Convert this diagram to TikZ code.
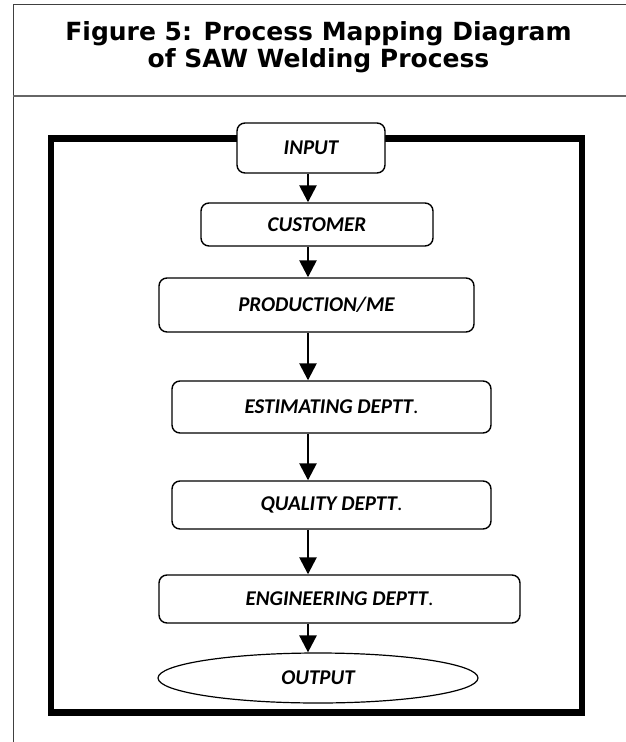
\documentclass[tikz,border=0pt]{standalone}
\usepackage{fontspec}
\usepackage{xcolor}
\usepackage{tikz}
\usetikzlibrary{positioning, arrows.meta, shapes.geometric}
\newfontfamily\titlefont{DejaVu Sans}
\newfontfamily\boxfont{Carlito}

\begin{document}
\begin{tikzpicture}[
    x = 1pt, y = -1pt,
    every node/.style = {font=\boxfont\bfseries\itshape\fontsize{21}{24}\selectfont},
    dept/.style = {
        draw, rectangle, rounded corners=8pt, fill=white,
        line width=1.4pt, inner sep=0pt
    },
    endpoint/.style = {draw, ellipse, fill=white, line width=1.2pt, inner sep=0pt},
    flow/.style = {-{Triangle[length=17pt, width=17pt]}, line width=2.6pt}
  ]
    \useasboundingbox (0,0) rectangle (626,742);
    % table cell
    \draw[line width=1pt, black!75] (13,742) -- (13,4) -- (626,4);
    \draw[line width=1.6pt, black!60] (13,96) -- (626,96);
    \node[align=center, font=\titlefont\bfseries\fontsize{25}{27.5}\selectfont]
        (title) at (318.5,47) {Figure 5: Process Mapping Diagram\\of SAW Welding Process};
    % outer frame
    \draw[line width=6.5pt] (51,138.5) rectangle (582,712.5);
    \node[dept, minimum width=148pt, minimum height=50pt] (input) at (311,148) {INPUT};
    \node[dept, minimum width=232pt, minimum height=43pt] (customer) at (317,224.5) {CUSTOMER};
    \node[dept, minimum width=315pt, minimum height=54pt] (production) at (316.5,305) {PRODUCTION/ME};
    \node[dept, minimum width=319pt, minimum height=52pt] (estimating) at (331.5,407) {ESTIMATING DEPTT{\mdseries\upshape .}};
    \node[dept, minimum width=319pt, minimum height=48pt] (quality) at (331.5,505) {QUALITY DEPTT{\mdseries\upshape .}};
    \node[dept, minimum width=361pt, minimum height=48pt] (engineering) at (339.5,599) {ENGINEERING DEPTT{\mdseries\upshape .}};
    \node[endpoint, minimum width=320pt, minimum height=50pt] (output) at (318,678) {OUTPUT};
    \coordinate (axis) at (308,0);  % all arrows on one line
    \foreach \a/\b in {input/customer, customer/production, production/estimating,
                       estimating/quality, quality/engineering, engineering/output}
        \draw[flow] (\a.south -| axis) -- (\b.north -| axis);
\end{tikzpicture}
\end{document}
